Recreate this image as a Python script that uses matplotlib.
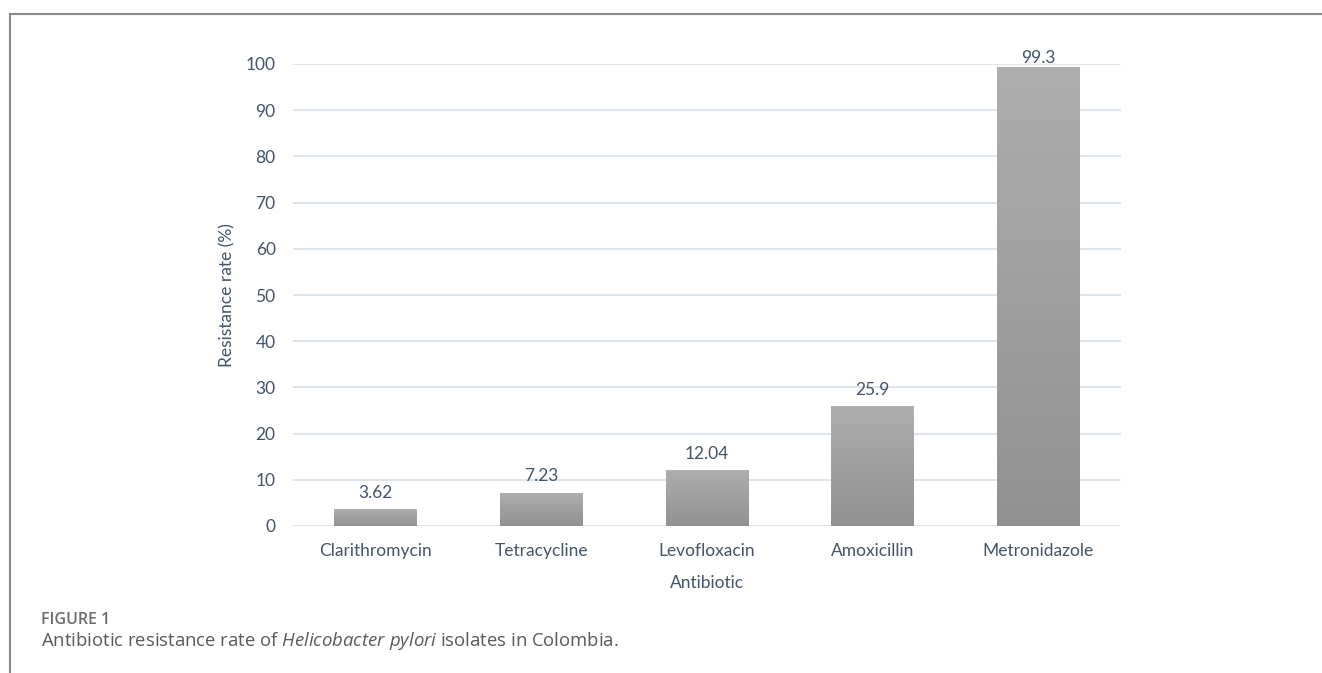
import numpy as np
import matplotlib.pyplot as plt
from matplotlib.patches import Rectangle
from matplotlib.colors import LinearSegmentedColormap

antibiotics = ["Clarithromycin", "Tetracycline", "Levofloxacin", "Amoxicillin", "Metronidazole"]
resistance = [3.62, 7.23, 12.04, 25.9, 99.3]
labels = ["3.62", "7.23", "12.04", "25.9", "99.3"]
yticks = [0, 10, 20, 30, 40, 50, 60, 70, 80, 90, 100]

txt = "#44546a"
font = "Lato"

plt.rcParams["mathtext.fontset"] = "custom"
plt.rcParams["mathtext.rm"] = "Open Sans"
plt.rcParams["mathtext.it"] = "Open Sans:italic"

fig = plt.figure(figsize=(13.22, 6.73), dpi=100)
ax = fig.add_axes([293 / 1322, 1 - 526 / 673, 828 / 1322, 462 / 673])

x = np.arange(len(antibiotics))
bars = ax.bar(x, resistance, width=0.5, color="none", zorder=3)

# vertical gradient fill for each bar
cmap = LinearSegmentedColormap.from_list("g", ["#919191", "#aeaeae"])
grad = np.linspace(0, 1, 256).reshape(-1, 1)
for b in bars:
    x0, y0 = b.get_x(), b.get_y()
    w, h = b.get_width(), b.get_height()
    im = ax.imshow(grad, extent=(x0, x0 + w, y0, y0 + h), origin="lower",
                   cmap=cmap, aspect="auto", zorder=3)
    im.set_clip_path(Rectangle((x0, y0), w, h, transform=ax.transData))

# value labels, kept inside the plot area like Excel does
for xi, v, lab in zip(x, resistance, labels):
    ax.annotate(lab, (xi, min(v, 97.8)), xytext=(0, 6), textcoords="offset points",
                ha="center", va="bottom", fontsize=12.5, color=txt, family=font)

ax.set_xlim(-0.5, len(antibiotics) - 0.5)
ax.set_ylim(0, 100)
ax.set_yticks(yticks)
ax.set_xticks(x)
ax.set_xticklabels(antibiotics)
ax.grid(axis="y", color="#dce3ec", linewidth=1.3, zorder=0)
ax.set_axisbelow(True)
for s in ax.spines.values():
    s.set_visible(False)
ax.tick_params(length=0, labelsize=12.5, labelcolor=txt)
ax.tick_params(axis="x", pad=12)
ax.tick_params(axis="y", pad=12.5)
for t in ax.get_xticklabels() + ax.get_yticklabels():
    t.set_family(font)
ax.set_ylabel("Resistance rate (%)", fontsize=12.5, color=txt, family=font, labelpad=7)
ax.set_xlabel("Antibiotic", fontsize=12.5, color=txt, family=font, labelpad=12)

# outer frame lines (left and top)
fig.add_artist(plt.Line2D([10 / 1322, 10 / 1322], [0, 1 - 14 / 673], color="#8a8a8a", lw=1.5))
fig.add_artist(plt.Line2D([10 / 1322, 1], [1 - 14 / 673, 1 - 14 / 673], color="#8a8a8a", lw=1.5))

fig.text(41 / 1322, 1 - 620 / 673, "FIGURE 1", fontsize=11.5, color="#6b6b6b",
         family="Open Sans", weight="semibold", va="center")
fig.text(41 / 1322, 1 - 641 / 673,
         "Antibiotic resistance rate of $\\it{Helicobacter\\ pylori}$ isolates in Colombia.",
         fontsize=13.3, color="#5a5a5a", family="Open Sans", va="center")

fig.savefig("out.png", dpi=100)
